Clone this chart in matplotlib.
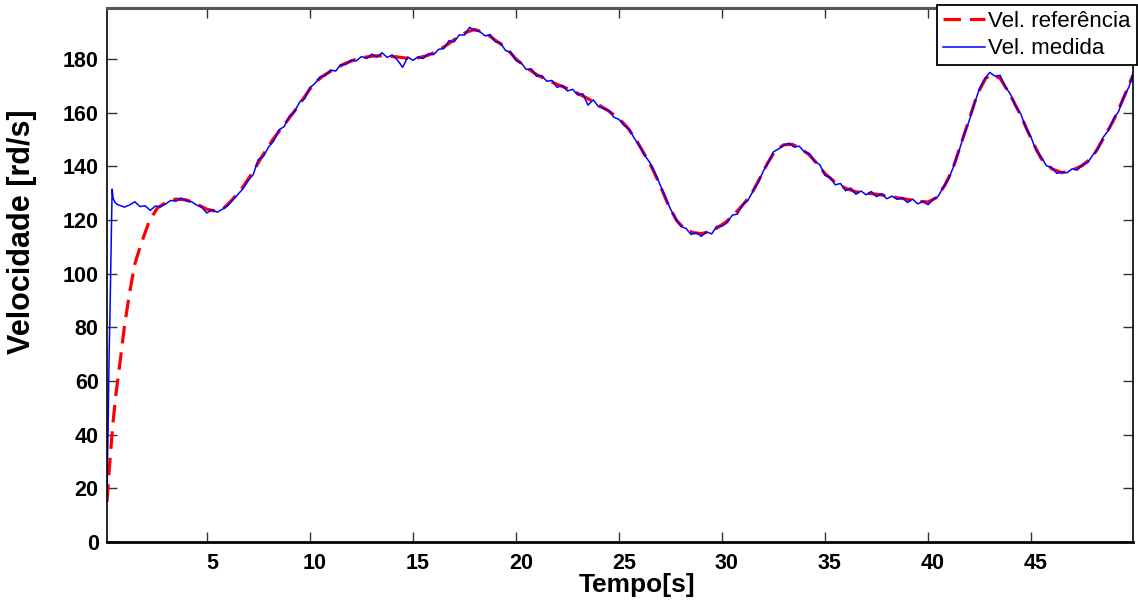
import numpy as np
import matplotlib
matplotlib.use("Agg")
import matplotlib.pyplot as plt
from matplotlib.transforms import ScaledTranslation

plt.rcParams['font.family'] = ['Liberation Sans', 'DejaVu Sans']

# reference speed (red dashed)
t_ref = [0.15, 0.3, 0.45, 0.6, 0.8, 1.0, 1.25, 1.5, 1.8, 2.2, 2.6, 3.0, 3.5, 4.0, 4.5,
         5.0, 5.4, 5.8, 6.2, 6.7, 7.2, 7.7, 8.2, 8.7, 9.2, 9.7, 10.2, 10.7, 11.2, 11.7,
         12.2, 12.7, 13.2, 13.7, 14.2, 14.7, 15.2, 15.7, 16.2, 16.7, 17.2, 17.6, 18.0,
         18.5, 19.0, 19.5, 20.0, 20.5, 21.0, 21.5, 22.0, 22.5, 23.0, 23.5, 24.0, 24.5,
         25.0, 25.4, 25.8, 26.2, 26.6, 27.0, 27.4, 27.8, 28.2, 28.6, 29.0, 29.4, 29.8,
         30.2, 30.6, 31.0, 31.4, 31.8, 32.2, 32.6, 33.0, 33.4, 33.8, 34.2, 34.6, 35.0,
         35.5, 36.0, 36.5, 37.0, 37.5, 38.0, 38.5, 39.0, 39.5, 40.0, 40.4, 40.8, 41.2,
         41.6, 42.0, 42.4, 42.8, 43.1, 43.5, 44.0, 44.5, 45.0, 45.5, 46.0, 46.5, 47.0,
         47.5, 48.0, 48.5, 49.0, 49.5, 49.95]
v_ref = [15, 31, 45, 56, 68, 80.5, 93, 103.5, 111, 119.5, 124.5, 126.5, 127.8, 127.5, 126,
         124, 123.3, 124.3, 127.3, 131.8, 137.5, 144, 150, 155, 160, 165.5, 171, 174, 176.3, 178.3,
         179.8, 180.7, 181.2, 181.1, 180.8, 180.3, 180.3, 181.3, 183, 185.5, 188.3, 190, 191,
         189.8, 187, 184.3, 180, 176.8, 174.2, 172.3, 170.5, 169, 167.2, 165.2, 163, 160.6,
         157.8, 154.6, 150.3, 145, 139.5, 132.8, 125.5, 119.8, 116.6, 115.3, 114.9, 115.7, 117.2,
         119.3, 122.2, 125.5, 129.3, 135, 141, 146, 148, 148.2, 146.8, 144.5, 141.2, 137.3,
         134, 131.8, 130.5, 130, 129.6, 129, 128.3, 127.7, 127, 126.7, 128.3, 132.7, 139,
         148.3, 157.5, 167, 172.8, 174.3, 172.8, 166.5, 159, 150.3, 142.8, 139.1, 137.6, 138.6,
         140.3, 143.6, 150.2, 157, 165.6, 174]

# measured speed (blue): start-up samples, then every 0.25 s from 0.75 s
t_start = [0.15, 0.2, 0.25, 0.3, 0.35, 0.4, 0.45, 0.55, 0.65]
v_start = [20, 40, 68, 87, 110, 131.5, 128, 126.5, 125.8]
v_meas = [
    125.5, 124.8, 125.6, 126.8, 125.0, 125.3, 123.6, 125.2, 124.9,
    126.0, 127.3, 127.0, 128.2, 127.1, 126.8, 125.6, 124.7,
    122.6, 123.8, 122.9, 124.0, 125.2, 127.4, 129.5, 131.6,
    134.6, 137.0, 142.6, 143.8, 147.3, 149.5, 153.6, 154.8,
    158.7, 160.4, 163.9, 165.2, 169.3, 170.9, 173.4, 173.8,
    175.9, 175.5, 177.9, 178.0, 179.6, 179.3, 180.9, 180.2,
    181.8, 180.7, 182.3, 180.6, 181.5, 179.6, 176.9, 180.7,
    179.5, 180.8, 180.2, 181.9, 181.6, 183.6, 183.9, 186.8,
    186.4, 189.0, 188.9, 191.8, 190.6, 190.2, 188.6, 189.1,
    186.4, 186.0, 183.1, 182.6, 179.4, 178.6, 176.1, 176.3,
    173.6, 173.8, 171.7, 172.0, 169.4, 170.2, 168.1, 168.7,
    166.6, 167.0, 162.8, 164.8, 162.3, 161.5, 160.9, 158.3,
    157.5, 155.2, 153.8, 150.4, 147.6, 144.1, 141.4, 137.6,
    133.1, 128.6, 124.1, 120.5, 117.6, 116.9, 114.6, 115.3,
    113.9, 115.6, 114.8, 117.6, 117.7, 119.0, 121.8, 122.2,
    125.7, 127.2, 130.6, 133.9, 138.1, 141.5, 145.4, 146.5,
    147.9, 148.6, 147.2, 147.5, 145.4, 144.7, 141.8, 140.6,
    136.6, 135.9, 133.1, 133.6, 130.9, 131.9, 129.6, 130.8,
    129.4, 130.6, 128.7, 129.8, 127.9, 128.9, 127.7, 128.4,
    126.5, 127.8, 126.0, 126.9, 125.7, 127.6, 128.9, 132.3,
    135.2, 140.1, 145.6, 151.8, 157.0, 163.4, 168.9, 172.6,
    175.0, 173.6, 173.9, 169.7, 166.9, 162.5, 159.6, 154.4,
    150.9, 145.8, 143.4, 140.2, 139.6, 137.4, 137.9, 137.6,
    139.1, 138.6, 140.8, 141.4, 144.2, 146.4, 150.8, 153.3,
    157.6, 160.4, 165.9, 169.5, 174.5]

x_ticks = [5, 10, 15, 20, 25, 30, 35, 40, 45]
y_ticks = [0, 20, 40, 60, 80, 100, 120, 140, 160, 180]

t_meas = np.concatenate([t_start, 0.75 + 0.25 * np.arange(len(v_meas) - 1), [49.95]])
v_all = np.concatenate([v_start, v_meas])

fig = plt.figure(figsize=(11.38, 6.02), dpi=100)
ax = fig.add_axes([0.094, 0.0997, 0.9016, 0.887])

ax.plot(t_ref, v_ref, color='#ff0000', lw=2.3, dashes=(5.5, 2.8), label='Vel. referência')
ax.plot(t_meas, v_all, color='#0000ff', lw=1.1, label='Vel. medida')

ax.set_xlim(0.15, 49.95)
ax.set_ylim(0, 199)
ax.set_xticks(x_ticks)
ax.set_yticks(y_ticks)
ax.tick_params(direction='in', top=True, right=True, length=7, width=1, color='#333333',
               labelsize=15.5, pad=6)
ax.tick_params(axis='x', pad=8)
for lab in ax.get_xticklabels() + ax.get_yticklabels():
    lab.set_fontweight('bold')
offset = ScaledTranslation(5 / 100, 0, fig.dpi_scale_trans)
for lab in ax.get_xticklabels():
    lab.set_transform(lab.get_transform() + offset)

for side in ['left', 'right']:
    ax.spines[side].set_linewidth(1.2)
    ax.spines[side].set_color('black')
ax.spines['bottom'].set_linewidth(2)
ax.spines['top'].set_linewidth(2.2)
ax.spines['top'].set_color('#555555')

ax.set_xlabel('Tempo[s]', fontsize=19, fontweight='bold')
ax.set_ylabel('Velocidade [rd/s]', fontsize=22, fontweight='bold')
ax.xaxis.set_label_coords(0.517, -0.058)
ax.yaxis.set_label_coords(-0.068, 0.582)

leg = ax.legend(loc='upper right', bbox_to_anchor=(1.0035, 1.006), fontsize=16,
                handlelength=1.9, handletextpad=0.15, borderpad=0.27, labelspacing=0.3,
                fancybox=False, framealpha=1, borderaxespad=0)
leg.get_frame().set_edgecolor('black')
leg.get_frame().set_linewidth(1.3)

fig.savefig('out.png', dpi=100)
